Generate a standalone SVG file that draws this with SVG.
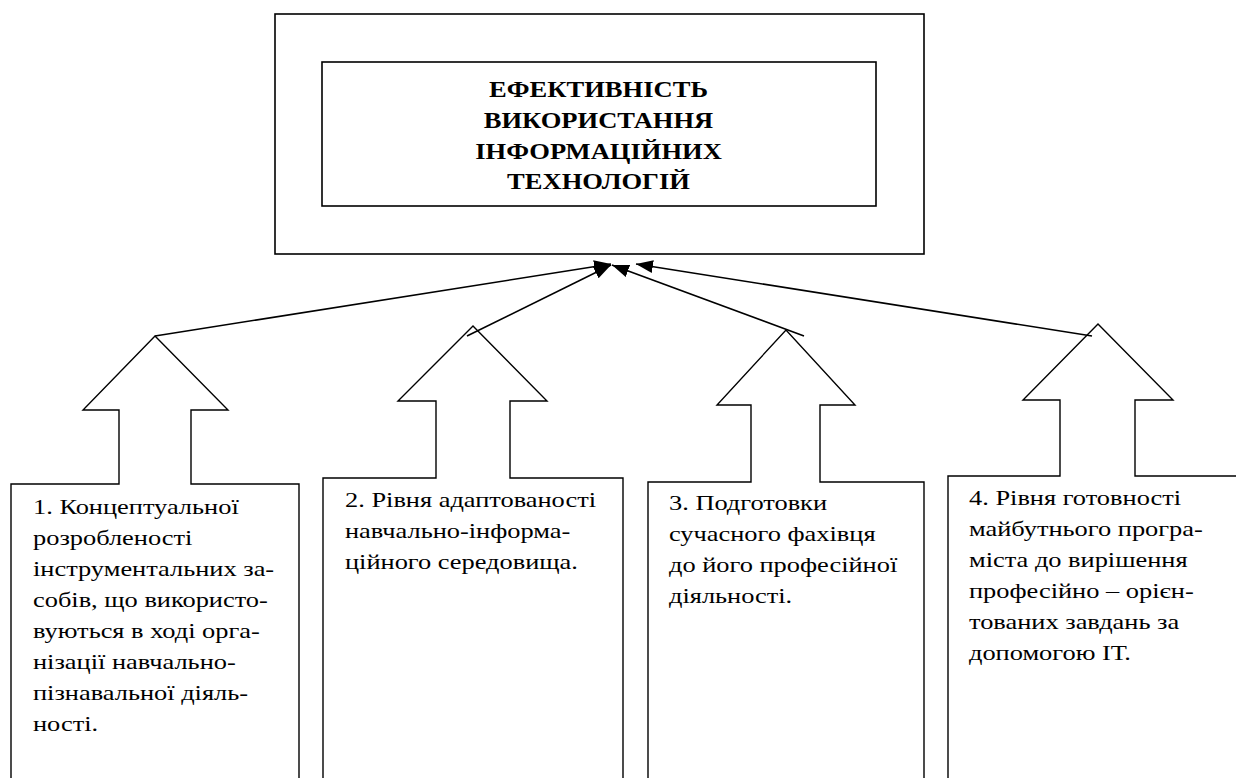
<svg xmlns="http://www.w3.org/2000/svg" width="1236" height="778" viewBox="0 0 1236 778">
<defs>
<style>
.box{fill:none;stroke:#000;stroke-width:1.6}
.shape{fill:#fff;stroke:#000;stroke-width:1.4}
.conn{fill:none;stroke:#000;stroke-width:1.6}
text{font-family:'Liberation Serif','Times New Roman','DejaVu Serif',serif}
.title{font-weight:bold;font-size:22.5px;text-anchor:middle;fill:#000}
.lbl text{font-size:22px;fill:#000}
</style>
<marker id="ah" viewBox="0 0 16 12" refX="16" refY="6" markerWidth="17" markerHeight="13" markerUnits="userSpaceOnUse" orient="auto">
<path d="M0,0 L16,6 L0,12 z" fill="#000"/>
</marker>
</defs>
<rect width="1236" height="778" fill="#fff"/>
<g id="main">
<rect class="box" x="275" y="14" width="649" height="240"/>
<rect class="box" x="322" y="62" width="554" height="144"/>
<g transform="translate(598.5,0) scale(1.18,1)">
<text class="title" x="0" y="97" style="font-family:'Liberation Serif',serif">ЕФЕКТИВНІСТЬ</text>
<text class="title" x="0" y="128" style="font-family:'Liberation Serif',serif">ВИКОРИСТАННЯ</text>
<text class="title" x="0" y="159" style="font-family:'Liberation Serif',serif">ІНФОРМАЦІЙНИХ</text>
<text class="title" x="0" y="189" style="font-family:'Liberation Serif',serif">ТЕХНОЛОГІЙ</text>
</g>
</g>
<g id="node1">
<path class="shape" d="M11,780 V484 H119 V410 H83 L155,336 L228,410 H191 V484 H299 V780"/>
<g class="lbl" transform="translate(33,0) scale(1.2,1)">
<text x="0" y="514">1. Концептуальної</text>
<text x="0" y="545">розробленості</text>
<text x="0" y="576">інструментальних за-</text>
<text x="0" y="607">собів, що використо-</text>
<text x="0" y="638">вуються в ході орга-</text>
<text x="0" y="669">нізації навчально-</text>
<text x="0" y="700">пізнавальної діяль-</text>
<text x="0" y="731">ності.</text>
</g>
</g>
<g id="node2">
<path class="shape" d="M323,780 V478 H436 V401 H398 L473,326 L547,401 H510 V478 H623 V780"/>
<g class="lbl" transform="translate(345,0) scale(1.2,1)">
<text x="0" y="507">2. Рівня адаптованості</text>
<text x="0" y="538">навчально-інформа-</text>
<text x="0" y="569">ційного середовища.</text>
</g>
</g>
<g id="node3">
<path class="shape" d="M648,780 V482 H751 V405 H717 L786,330 L855,405 H820 V482 H924 V780"/>
<g class="lbl" transform="translate(669,0) scale(1.2,1)">
<text x="0" y="510">3. Подготовки</text>
<text x="0" y="541">сучасного фахівця</text>
<text x="0" y="572">до його професійної</text>
<text x="0" y="603">діяльності.</text>
</g>
</g>
<g id="node4">
<path class="shape" d="M948,780 V476 H1060 V400 H1023 L1098,324 L1173,400 H1135 V476 H1240"/>
<g class="lbl" transform="translate(969,0) scale(1.2,1)">
<text x="0" y="505">4. Рівня готовності</text>
<text x="0" y="536">майбутнього програ-</text>
<text x="0" y="567">міста до вирішення</text>
<text x="0" y="598">професійно – орієн-</text>
<text x="0" y="629">тованих завдань за</text>
<text x="0" y="660">допомогою ІТ.</text>
</g>
</g>
<g id="connectors">
<line class="conn" x1="155" y1="336" x2="611" y2="264" marker-end="url(#ah)"/>
<line class="conn" x1="467" y1="336" x2="611" y2="265" marker-end="url(#ah)"/>
<line class="conn" x1="804" y1="336" x2="612" y2="265" marker-end="url(#ah)"/>
<line class="conn" x1="1092" y1="336" x2="636" y2="264" marker-end="url(#ah)"/>
</g>
</svg>
